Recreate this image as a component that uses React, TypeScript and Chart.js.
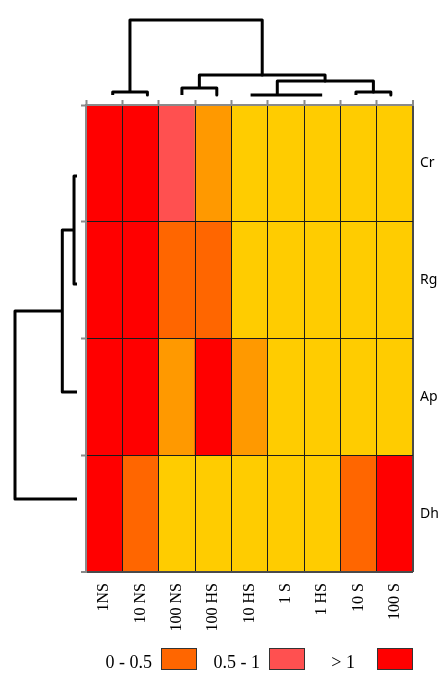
import React, { useEffect, useRef } from "react";
import { Chart, registerables } from "chart.js";

Chart.register(...registerables);

// ---------- data ----------
const columns = ["1NS", "10 NS", "100 NS", "100 HS", "10 HS", "1 S", "1 HS", "10 S", "100 S"];
const rows = ["Cr", "Rg", "Ap", "Dh"];

// level codes: 0 yellow, 1 orange, 2 orange-red (0 - 0.5), 3 light red (0.5 - 1), 4 red (> 1)
const levelColors = ["#FFCC00", "#FF9900", "#FF6600", "#FF5050", "#FF0000"];
const rowCr = [4, 4, 3, 1, 0, 0, 0, 0, 0];
const rowRg = [4, 4, 2, 2, 0, 0, 0, 0, 0];
const rowAp = [4, 4, 1, 4, 1, 0, 0, 0, 0];
const rowDh = [4, 2, 0, 0, 0, 0, 0, 2, 4];

const legendLabels = ["0 - 0.5", "0.5 - 1", "> 1"];
const legendLevels = [2, 3, 4];

// top dendrogram links: leaf positions in column units, heights (root = 1)
const topLinkX = [
  [0.735, 0.735, 1.69, 1.69],
  [2.64, 2.64, 3.6, 3.6],
  [4.53, 4.53, 6.5, 6.5],
  [7.43, 7.43, 8.39, 8.39],
  [5.265, 5.265, 7.91, 7.91],
  [3.12, 3.12, 6.58, 6.58],
  [1.21, 1.21, 4.85, 4.85],
];
const topLinkH = [
  [0, 0.04, 0.04, 0],
  [0, 0.093, 0.093, 0],
  [0, 0, 0, 0],
  [0, 0.04, 0.04, 0],
  [0, 0.187, 0.187, 0.04],
  [0.093, 0.267, 0.267, 0.187],
  [0.04, 1, 1, 0.267],
];

// left dendrogram links: leaf positions in row units, distances (root = 1)
const leftLinkY = [
  [0.608, 0.608, 1.533, 1.533],
  [1.07, 1.07, 2.458, 2.458],
  [1.765, 1.765, 3.375, 3.375],
];
const leftLinkD = [
  [0, 0.048, 0.048, 0],
  [0.048, 0.237, 0.237, 0],
  [0.237, 1, 1, 0],
];

// ---------- layout ----------
const W = 440;
const H = 674;
const AREA = { left: 86, right: 413, top: 105, bottom: 572 };
const TOP_BASE = 95; // pixel row of dendrogram leaves above the heatmap
const TOP_SPAN = 75; // pixels for height 1
const LEFT_BASE = 77; // pixel column of dendrogram leaves left of the heatmap
const LEFT_SPAN = 62; // pixels for distance 1

const colUnit = (AREA.right - AREA.left) / columns.length;
const rowUnit = (AREA.bottom - AREA.top) / rows.length;
// dendrogram heights expressed in the heatmap's own axis units (outside the plotted range)
const topHeightToY = (h: number) => (TOP_BASE - h * TOP_SPAN - AREA.top) / rowUnit;
const leftDistToX = (d: number) => (LEFT_BASE - d * LEFT_SPAN - AREA.left) / colUnit;

const GRAY = "#8a8a8a";
const CELL_LINE = "#1c1c1c";
const EDGE_LINE = "#4a4a4a";

export default function App() {
  const ref = useRef<HTMLCanvasElement | null>(null);

  useEffect(() => {
    if (!ref.current) return;
    const heatRows = [rowCr, rowRg, rowAp, rowDh];
    const cells: any[] = [];
    const cellColors: string[] = [];
    heatRows.forEach((vals, r) =>
      vals.forEach((lvl, c) => {
        cells.push({ x: c + 0.5, y: [r, r + 1] });
        cellColors.push(levelColors[lvl]);
      })
    );

    const lineStyle = {
      type: "line" as const,
      borderColor: "#000",
      borderWidth: 3,
      pointRadius: 0,
      pointHitRadius: 0,
      fill: false,
      tension: 0,
      clip: false as any,
      order: 0,
      borderJoinStyle: "round" as const,
      borderCapStyle: "butt" as const,
      xAxisID: "x",
      yAxisID: "y",
    };

    const topSets = topLinkX.map((xs, i) => ({
      ...lineStyle,
      data: xs.map((x, j) => ({ x, y: topHeightToY(topLinkH[i][j]) })),
    }));
    const leftSets = leftLinkY.map((ys, i) => ({
      ...lineStyle,
      indexAxis: "y",
      data: ys.map((y, j) => ({ x: leftDistToX(leftLinkD[i][j]), y })),
    }));

    const chart = new Chart(ref.current, {
      type: "bar",
      data: {
        datasets: [
          {
            type: "bar",
            data: cells,
            backgroundColor: cellColors,
            borderWidth: 0,
            barPercentage: 1,
            categoryPercentage: 1,
            grouped: false,
            order: 1,
            xAxisID: "x",
            yAxisID: "y",
          } as any,
          ...(topSets as any[]),
          ...(leftSets as any[]),
        ],
      },
      options: {
        responsive: false,
        animation: false,
        events: [],
        layout: { padding: 0, autoPadding: false },
        plugins: { legend: { display: false }, tooltip: { enabled: false } },
        scales: {
          x: {
            type: "linear",
            position: "bottom",
            min: 0,
            max: columns.length,
            offset: false,
            afterBuildTicks: (s: any) => {
              s.ticks = columns.map((_, i) => ({ value: i + 0.5 }));
            },
            afterFit: (s: any) => {
              s.height = H - AREA.bottom;
            },
            grid: { display: false, drawTicks: false, offset: false },
            border: { display: false },
            ticks: {
              autoSkip: false,
              minRotation: 90,
              maxRotation: 90,
              padding: 11,
              color: "#000",
              font: { family: "'Liberation Serif', serif", size: 16 },
              callback: (_v: any, i: number) => columns[i],
            },
          },
          xTop: {
            type: "linear",
            axis: "x",
            position: "top",
            min: 0,
            max: columns.length,
            offset: false,
            afterBuildTicks: (s: any) => {
              s.ticks = [0, ...columns.map((_, i) => i + 1)].map((v) => ({ value: v }));
            },
            afterFit: (s: any) => {
              s.height = AREA.top;
            },
            grid: {
              z: 1,
              offset: false,
              drawOnChartArea: true,
              drawTicks: true,
              tickLength: 5,
              tickColor: GRAY,
              tickWidth: 2,
              color: (ctx: any) =>
                ctx.index === 0 ? GRAY : ctx.index === columns.length ? EDGE_LINE : CELL_LINE,
              lineWidth: (ctx: any) => (ctx.index === columns.length ? 2 : 1),
            },
            border: { display: true, color: GRAY, width: 2, z: 2 },
            ticks: { display: false },
          },
          y: {
            type: "linear",
            position: "left",
            min: 0,
            max: rows.length,
            reverse: true,
            afterBuildTicks: (s: any) => {
              s.ticks = [0, ...rows.map((_, i) => i + 1)].map((v) => ({ value: v }));
            },
            afterFit: (s: any) => {
              s.width = AREA.left;
            },
            grid: {
              z: 1,
              drawOnChartArea: true,
              drawTicks: true,
              tickLength: 5,
              tickColor: GRAY,
              tickWidth: 2,
              color: (ctx: any) =>
                ctx.index === 0 ? GRAY : ctx.index === rows.length ? EDGE_LINE : CELL_LINE,
              lineWidth: (ctx: any) => (ctx.index === rows.length ? 2 : 1),
            },
            border: { display: true, color: GRAY, width: 2, z: 2 },
            ticks: { display: false },
          },
          yR: {
            type: "linear",
            axis: "y",
            position: "right",
            min: 0,
            max: rows.length,
            reverse: true,
            afterBuildTicks: (s: any) => {
              s.ticks = rows.map((_, i) => ({ value: i + 0.5 }));
            },
            afterFit: (s: any) => {
              s.width = W - AREA.right;
            },
            grid: { display: false, drawTicks: false },
            border: { display: false },
            ticks: {
              autoSkip: false,
              padding: 7,
              color: "#000",
              font: { family: "'Noto Sans', sans-serif", size: 14 },
              callback: (_v: any, i: number) => rows[i],
            },
          },
        } as any,
      },
    });
    return () => chart.destroy();
  }, []);

  const boxLeft = [161, 269, 377];
  const textGap = [9, 9, 22];

  return (
    <div style={{ position: "absolute", left: 0, top: 0, width: W, height: H }}>
      <canvas ref={ref} width={W} height={H} style={{ display: "block", width: W, height: H }} />
      {legendLabels.map((label, i) => (
        <React.Fragment key={label}>
          <span
            style={{
              position: "absolute",
              left: boxLeft[i] - textGap[i] - 80,
              width: 80,
              top: 652,
              height: 20,
              lineHeight: "20px",
              textAlign: "right",
              whiteSpace: "nowrap",
              fontFamily: "'Liberation Serif', serif",
              fontSize: 18,
              color: "#000",
            }}
          >
            {label}
          </span>
          <span
            style={{
              position: "absolute",
              left: boxLeft[i],
              top: 648,
              width: 36,
              height: 22,
              boxSizing: "border-box",
              border: "1px solid #333",
              background: levelColors[legendLevels[i]],
            }}
          />
        </React.Fragment>
      ))}
    </div>
  );
}
